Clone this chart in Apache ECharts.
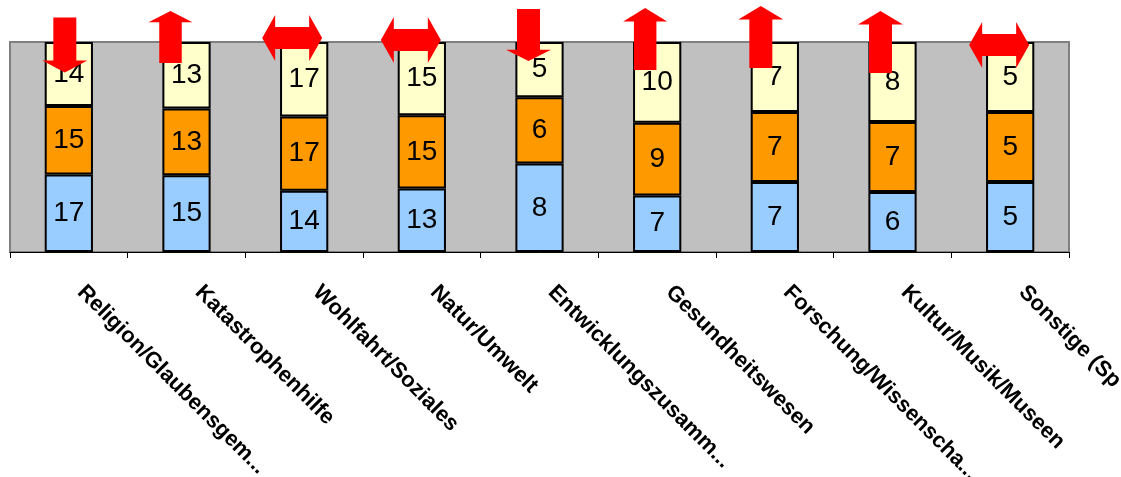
<!DOCTYPE html>
<html>
<head>
<meta charset="utf-8">
<script src="https://cdn.jsdelivr.net/npm/echarts@6/dist/echarts.min.js"></script>
<style>
  html, body { margin: 0; padding: 0; background: #fff; }
  #myCanvas { width: 1121px; height: 477px; }
</style>
</head>
<body>
<div id="myCanvas"></div>
<script>
// Categories and values (raw counts, shown as labels; bars are stacked to 100%)
var categories = ['Religion/Glaubensgem...', 'Katastrophenhilfe', 'Wohlfahrt/Soziales', 'Natur/Umwelt',
  'Entwicklungszusamm...', 'Gesundheitswesen', 'Forschung/Wissenscha...', 'Kultur/Musik/Museen', 'Sonstige (Sp'];
var blueValues = [17, 15, 14, 13, 8, 7, 7, 6, 5];
var orangeValues = [15, 13, 17, 15, 6, 9, 7, 7, 5];
var yellowValues = [14, 13, 17, 15, 5, 10, 7, 8, 5];
// trend arrow per category
var trendArrows = ['down', 'up', 'both', 'both', 'down', 'up', 'up', 'up', 'both'];

// arrow shapes and per-arrow placement (style only)
var arrowPaths = {
  up: 'path://M22.5 0 L45 13 L34 13 L34 60 L11 60 L11 13 L0 13 Z',
  down: 'path://M11 0 L34 0 L34 47 L45 47 L22.5 60 L0 47 L11 47 Z',
  both: 'path://M0 23 L13 0 L13 12 L47 12 L47 0 L60 23 L47 46 L47 34 L13 34 L13 46 Z'
};
var arrowSizes = [[45, 55], [44, 52], [60, 46], [60, 46], [45, 52], [44, 62], [45, 62], [45, 62], [60, 46]];
var arrowOffsets = [[-4, 3], [-16, -5], [-12, -4], [-11, -2], [-11, -7], [-12, -3], [-14, -5], [-12, 0], [-11, 3]];

var totals = blueValues.map(function (v, i) { return v + orangeValues[i] + yellowValues[i]; });
function toPercent(arr) {
  return arr.map(function (v, i) { return { value: v / totals[i] * 100, raw: v }; });
}

var chart = echarts.init(document.getElementById('myCanvas'), null, { renderer: 'canvas' });

function barSeries(name, values, color) {
  return {
    name: name,
    type: 'bar',
    stack: 'total',
    barWidth: '41%',
    data: toPercent(values),
    itemStyle: { color: color, borderColor: '#000', borderWidth: 2 },
    label: {
      show: true,
      position: 'inside',
      color: '#000',
      fontFamily: 'Liberation Sans, Arial, sans-serif',
      fontSize: 28,
      formatter: function (p) { return p.data.raw; }
    }
  };
}

var option = {
  animation: false,
  grid: {
    left: 10, right: 52, top: 42, bottom: 225,
    outerBoundsMode: 'none',
    containLabel: false,
    show: true,
    backgroundColor: '#C0C0C0',
    borderColor: '#808080',
    borderWidth: 2
  },
  xAxis: {
    type: 'category',
    data: categories,
    axisLine: { lineStyle: { color: '#000', width: 1 } },
    axisTick: { show: true, length: 6, lineStyle: { color: '#000' } },
    axisLabel: {
      interval: 0,
      rotate: -45,
      margin: 25,
      padding: [0, 0, 0, 17],
      color: '#000',
      fontWeight: 'bold',
      fontSize: 22,
      fontFamily: 'Liberation Sans, Arial, sans-serif'
    }
  },
  yAxis: { type: 'value', min: 0, max: 100, show: false, splitLine: { show: false } },
  series: [
    barSeries('blau', blueValues, '#99CCFF'),
    barSeries('orange', orangeValues, '#FF9900'),
    barSeries('gelb', yellowValues, '#FFFFCC'),
    {
      name: 'Trend',
      type: 'scatter',
      clip: false,
      z: 10,
      itemStyle: { color: '#FF0000', opacity: 1 },
      data: trendArrows.map(function (t, i) {
        return {
          value: [i, 100],
          symbol: arrowPaths[t],
          symbolKeepAspect: false,
          symbolSize: arrowSizes[i],
          symbolOffset: arrowOffsets[i]
        };
      })
    }
  ]
};

chart.setOption(option);
</script>
</body>
</html>
